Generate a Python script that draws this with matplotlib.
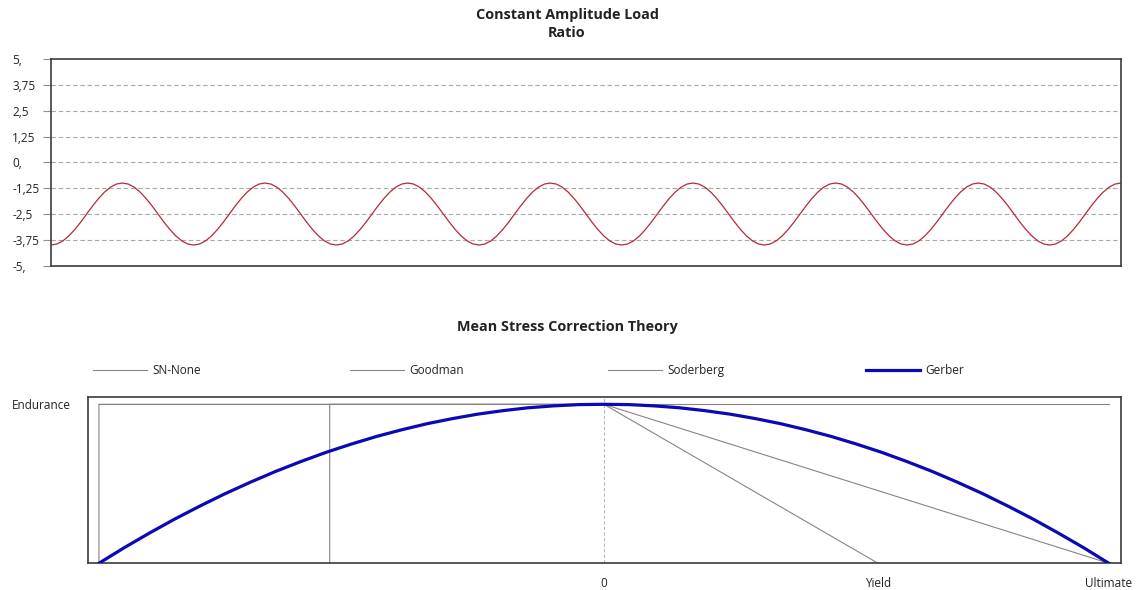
import numpy as np
import matplotlib
matplotlib.use('Agg')
import matplotlib.pyplot as plt

plt.rcParams['font.family'] = ['Open Sans', 'DejaVu Sans']

load_cycle = [-4.0, -3.95, -3.80, -3.56, -3.25, -2.89, -2.5, -2.11, -1.75, -1.44, -1.20, -1.05,
              -1.0, -1.05, -1.20, -1.44, -1.75, -2.11, -2.5, -2.89, -3.25, -3.56, -3.80, -3.95]
n_cycles = 7.5
load_ticks = [-5, -3.75, -2.5, -1.25, 0, 1.25, 2.5, 3.75, 5]
load_tick_labels = ['-5,', '-3,75', '-2,5', '-1,25', '0,', '1,25', '2,5', '3,75', '5,']

# Mean stress correction (normalised: ultimate = 1, endurance = 1)
ultimate = 1.0
yield_strength = 0.543
endurance = 1.0
sn_none_x = [-ultimate, ultimate]
sn_none_y = [endurance, endurance]
goodman_x = [-ultimate, -ultimate, 0, ultimate]
goodman_y = [0, endurance, endurance, 0]
soderberg_x = [-yield_strength, -yield_strength, 0, yield_strength]
soderberg_y = [0, endurance, endurance, 0]
gerber_x = [-1.0, -0.95, -0.9, -0.85, -0.8, -0.75, -0.7, -0.65, -0.6, -0.55, -0.5,
            -0.45, -0.4, -0.35, -0.3, -0.25, -0.2, -0.15, -0.1, -0.05, 0.0,
            0.05, 0.1, 0.15, 0.2, 0.25, 0.3, 0.35, 0.4, 0.45, 0.5,
            0.55, 0.6, 0.65, 0.7, 0.75, 0.8, 0.85, 0.9, 0.95, 1.0]
gerber_y = [0.0, 0.098, 0.19, 0.278, 0.36, 0.438, 0.51, 0.578, 0.64, 0.698, 0.75,
            0.798, 0.84, 0.878, 0.91, 0.938, 0.96, 0.978, 0.99, 0.998, 1.0,
            0.998, 0.99, 0.978, 0.96, 0.938, 0.91, 0.878, 0.84, 0.798, 0.75,
            0.698, 0.64, 0.578, 0.51, 0.438, 0.36, 0.278, 0.19, 0.098, 0.0]
x_ticks = [0, yield_strength, ultimate]
x_tick_labels = ['0', 'Yield', 'Ultimate']

n_pts = int(n_cycles * len(load_cycle)) + 1
load = np.tile(load_cycle, int(np.ceil(n_cycles)) + 1)[:n_pts]
t = np.arange(n_pts)

fig = plt.figure(figsize=(11.37, 5.9), dpi=100)
W, H = 1137, 590
spine_col = '#3c3c3c'
text_col = '#222222'
fs = 8.5

# ---- top chart ----
ax1 = fig.add_axes([51 / W, 1 - 265.7 / H, (1121 - 51) / W, (265.7 - 59) / H])
ax1.plot(t, load, color='#b8283a', lw=0.9)
ax1.set_xlim(0, n_pts - 1)
ax1.set_ylim(-5, 5)
ax1.set_yticks(load_ticks)
ax1.set_yticklabels(load_tick_labels, ha='left', fontsize=fs, color=text_col)
ax1.tick_params(axis='y', length=6, color='#909090', pad=22)
ax1.set_xticks([])
for y in load_ticks[1:-1]:
    ax1.axhline(y, color='#a8a8a8', lw=0.8, ls=(0, (4, 2.5)), xmax=0.997, zorder=0)
for s in ax1.spines.values():
    s.set_color(spine_col)
    s.set_linewidth(1.2)

fig.text(567 / W, 1 - 15 / H, 'Constant Amplitude Load', ha='center', va='center',
         fontsize=10.4, fontweight='bold', color=text_col)
fig.text(567 / W, 1 - 33 / H, 'Ratio', ha='center', va='center',
         fontsize=10.4, fontweight='bold', color=text_col)

# ---- bottom chart ----
ax2 = fig.add_axes([88.3 / W, 1 - 563.3 / H, (1121 - 88.3) / W, (563.3 - 397.3) / H])
gray = '#858585'
l1, = ax2.plot(sn_none_x, sn_none_y, color=gray, lw=0.8, label='SN-None')
l2, = ax2.plot(goodman_x, goodman_y, color=gray, lw=0.8, label='Goodman')
l3, = ax2.plot(soderberg_x, soderberg_y, color=gray, lw=0.8, label='Soderberg')
l4, = ax2.plot(gerber_x, gerber_y, color='#0a0ab4', lw=2.3, label='Gerber', zorder=5)
ax2.axvline(0, color='#b8b8b8', lw=0.8, ls=(0, (3, 2)), zorder=0)
ax2.set_xlim(-1.021, 1.024)
ax2.set_ylim(0, 1.044)
ax2.set_xticks(x_ticks)
ax2.set_xticklabels(x_tick_labels, fontsize=fs, color=text_col)
ax2.tick_params(axis='x', length=0, pad=10)
ax2.set_yticks([endurance])
ax2.set_yticklabels(['Endurance'], ha='left', fontsize=fs, color=text_col)
ax2.tick_params(axis='y', length=0, pad=55)
for s in ax2.spines.values():
    s.set_color(spine_col)
    s.set_linewidth(1.2)

fig.text(567 / W, 1 - 327 / H, 'Mean Stress Correction Theory', ha='center', va='center',
         fontsize=10.4, fontweight='bold', color=text_col)

# legend entries spread across the width
for line, x0 in zip([l1, l2, l3, l4], [93, 350, 608, 866]):
    fig.legend(handles=[line], loc='center left', bbox_to_anchor=(x0 / W, 1 - 370.5 / H),
               frameon=False, fontsize=fs, handlelength=4.6, handletextpad=0.45,
               borderpad=0, borderaxespad=0, labelcolor=text_col)

fig.savefig('out.png', dpi=100, facecolor='white')
